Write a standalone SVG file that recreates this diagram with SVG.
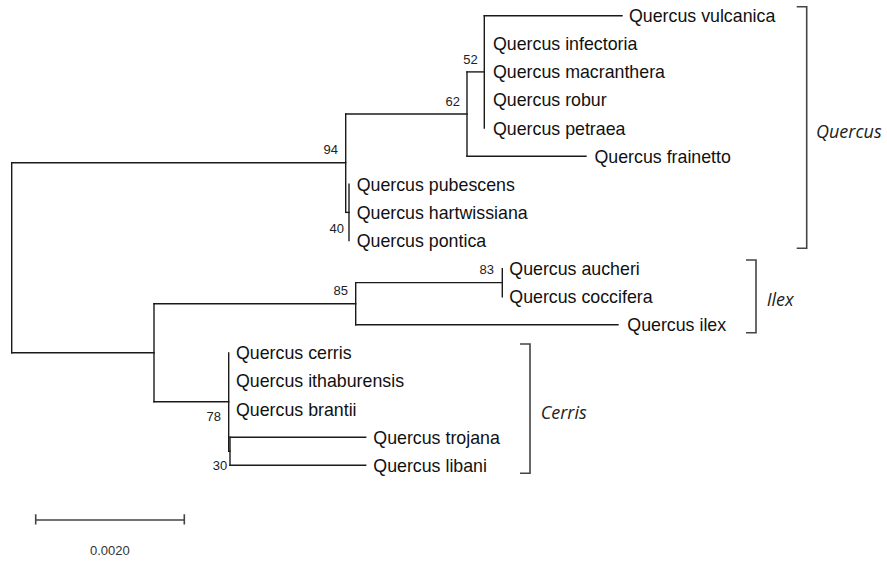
<svg xmlns="http://www.w3.org/2000/svg" width="887" height="561" viewBox="0 0 887 561">
<style>
.br{fill:none;stroke:#1a1a1a;stroke-width:1.4;stroke-linecap:square}
.bk{fill:none;stroke:#444;stroke-width:1.6}
.leaf{font-family:"Liberation Sans",Arial,sans-serif;font-size:17.8px;fill:#111}
.bs{font-family:"Liberation Sans",Arial,sans-serif;font-size:13px;fill:#222;text-anchor:end}
.grp{font-family:"Open Sans",sans-serif;font-size:18px;font-style:italic;fill:#222}
.sc{font-family:"Liberation Sans",Arial,sans-serif;font-size:13px;fill:#333}
</style>
<rect width="887" height="561" fill="#fff"/>
<g id="connectors" class="br">
<path d="M11.7,162.7V352.7"/>
<path d="M11.7,162.7H345.7"/>
<path d="M11.7,352.7H154"/>
<path d="M345.7,114V212.4"/>
<path d="M345.7,114H467"/>
<path d="M345.7,212.4H349"/>
<path d="M349,184.3V240.5"/>
<path d="M467,71.9V156.2"/>
<path d="M467,71.9H484.3"/>
<path d="M467,156.2H586"/>
<path d="M484.3,15.7V128.1"/>
<path d="M484.3,15.7H622"/>
<path d="M154,303.7V401.7"/>
<path d="M154,303.7H355.7"/>
<path d="M355.7,282.6V324.8"/>
<path d="M355.7,282.6H502.3"/>
<path d="M355.7,324.8H618"/>
<path d="M502.3,268.6V296.7"/>
<path d="M154,401.7H228.7"/>
<path d="M228.7,352.9V451.2"/>
<path d="M228.7,451.2H230"/>
<path d="M230,437.2V465.3"/>
<path d="M230,437.2H365.7"/>
<path d="M230,465.3H365.7"/>
</g>
<g id="leaves">
<text id="vulcanica" class="leaf" x="629" y="22.1">Quercus vulcanica</text>
<text id="infectoria" class="leaf" x="493" y="50.2">Quercus infectoria</text>
<text id="macranthera" class="leaf" x="493" y="78.3">Quercus macranthera</text>
<text id="robur" class="leaf" x="493" y="106.4">Quercus robur</text>
<text id="petraea" class="leaf" x="493" y="134.5">Quercus petraea</text>
<text id="frainetto" class="leaf" x="594.5" y="162.6">Quercus frainetto</text>
<text id="pubescens" class="leaf" x="356.7" y="190.7">Quercus pubescens</text>
<text id="hartwissiana" class="leaf" x="356.7" y="218.8">Quercus hartwissiana</text>
<text id="pontica" class="leaf" x="356.7" y="246.9">Quercus pontica</text>
<text id="aucheri" class="leaf" x="509.3" y="275">Quercus aucheri</text>
<text id="coccifera" class="leaf" x="509.3" y="303.1">Quercus coccifera</text>
<text id="ilex" class="leaf" x="627.3" y="331.2">Quercus ilex</text>
<text id="cerris" class="leaf" x="236" y="359.3">Quercus cerris</text>
<text id="ithaburensis" class="leaf" x="236" y="387.4">Quercus ithaburensis</text>
<text id="brantii" class="leaf" x="236" y="415.5">Quercus brantii</text>
<text id="trojana" class="leaf" x="373.3" y="443.6">Quercus trojana</text>
<text id="libani" class="leaf" x="373.3" y="471.7">Quercus libani</text>
</g>
<g id="bootstrap">
<text class="bs" x="338" y="154">94</text>
<text class="bs" x="460" y="106">62</text>
<text class="bs" x="477.7" y="64">52</text>
<text class="bs" x="344" y="233">40</text>
<text class="bs" x="348" y="295">85</text>
<text class="bs" x="494" y="274">83</text>
<text class="bs" x="221" y="421">78</text>
<text class="bs" x="227.3" y="470">30</text>
</g>
<g id="group-quercus">
<path class="bk" d="M796.7,6.7H806.7V248.3H796.7"/>
<text class="grp" x="816" y="138">Quercus</text>
</g>
<g id="group-ilex">
<path class="bk" d="M746,260H756V332.7H746"/>
<text class="grp" x="766.7" y="306">Ilex</text>
</g>
<g id="group-cerris">
<path class="bk" d="M520,344H530V473.3H520"/>
<text class="grp" x="540.7" y="419">Cerris</text>
</g>
<g id="scalebar">
<path class="bk" d="M35.7,520H184.3M35.7,514.3V524.5M184.3,514.3V524.5"/>
<text class="sc" x="90" y="555">0.0020</text>
</g>
</svg>
